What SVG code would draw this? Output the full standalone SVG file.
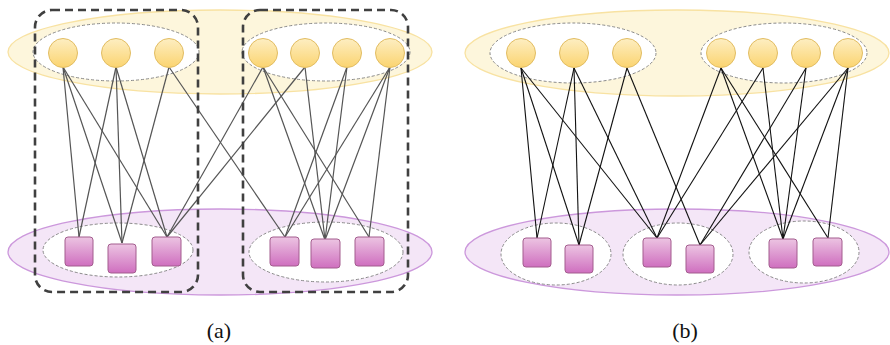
<svg xmlns="http://www.w3.org/2000/svg" width="890" height="345" viewBox="0 0 890 345">
<defs>
<linearGradient id="gc" x1="0" y1="0" x2="0" y2="1"><stop offset="0" stop-color="#fdeec2"/><stop offset="1" stop-color="#fbd470"/></linearGradient>
<linearGradient id="gs" x1="0" y1="0" x2="0" y2="1"><stop offset="0" stop-color="#ecc4e2"/><stop offset="1" stop-color="#cf6fbf"/></linearGradient>
</defs>
<style>
.yel{fill:#fdf6dc;stroke:#f8e2a2;stroke-width:1.3}
.pur{fill:#f4e6f7;stroke:#cc98dc;stroke-width:1.3}
.grp{fill:#fff;stroke:#8a8a8a;stroke-width:1;stroke-dasharray:3 2}
.box{fill:none;stroke:#404040;stroke-width:2.6;stroke-dasharray:8 5}
.c{fill:url(#gc);stroke:#e2bd62;stroke-width:1}
.s{fill:url(#gs);stroke:#a35d8e;stroke-width:1}
.ea{stroke:#555;stroke-width:1.2;fill:none}
.eb{stroke:#111;stroke-width:1.1;fill:none}
.lbl{font-family:"Liberation Serif","DejaVu Serif",serif;font-size:22px;fill:#111;text-anchor:middle}
</style>

<!-- Panel (a) backgrounds -->
<g id="a-top-layer"><ellipse class="yel" cx="220" cy="52" rx="212" ry="42"/></g>
<g id="a-bottom-layer"><ellipse class="pur" cx="220" cy="252" rx="212" ry="43"/></g>
<g id="a-top-g1"><ellipse class="grp" cx="116" cy="52" rx="83" ry="29"/></g>
<g id="a-top-g2"><ellipse class="grp" cx="326" cy="52" rx="84" ry="29"/></g>
<g id="a-bot-g1"><ellipse class="grp" cx="118" cy="250" rx="75" ry="27"/></g>
<g id="a-bot-g2"><ellipse class="grp" cx="326" cy="252" rx="77" ry="30"/></g>

<!-- Panel (b) backgrounds -->
<g id="b-top-layer"><ellipse class="yel" cx="677" cy="53" rx="212" ry="43"/></g>
<g id="b-bottom-layer"><ellipse class="pur" cx="677" cy="252" rx="212" ry="43"/></g>
<g id="b-top-g1"><ellipse class="grp" cx="573" cy="53" rx="83" ry="30"/></g>
<g id="b-top-g2"><ellipse class="grp" cx="784" cy="53" rx="83" ry="30"/></g>
<g id="b-bot-g1"><ellipse class="grp" cx="556" cy="254" rx="55" ry="31"/></g>
<g id="b-bot-g2"><ellipse class="grp" cx="678" cy="254" rx="55" ry="31"/></g>
<g id="b-bot-g3"><ellipse class="grp" cx="804" cy="252" rx="55" ry="31"/></g>

<!-- Connectors -->
<g id="connectors-a" class="ea">
<line x1="63" y1="67" x2="79" y2="237"/>
<line x1="63" y1="67" x2="122" y2="243"/>
<line x1="63" y1="67" x2="167" y2="237"/>
<line x1="116" y1="67" x2="79" y2="237"/>
<line x1="116" y1="67" x2="122" y2="243"/>
<line x1="116" y1="67" x2="167" y2="237"/>
<line x1="169" y1="67" x2="122" y2="243"/>
<line x1="169" y1="67" x2="285" y2="237"/>
<line x1="263" y1="67" x2="167" y2="237"/>
<line x1="263" y1="67" x2="325" y2="240"/>
<line x1="263" y1="67" x2="369" y2="237"/>
<line x1="305" y1="67" x2="167" y2="237"/>
<line x1="305" y1="67" x2="325" y2="240"/>
<line x1="347" y1="67" x2="285" y2="237"/>
<line x1="347" y1="67" x2="325" y2="240"/>
<line x1="390" y1="67" x2="285" y2="237"/>
<line x1="390" y1="67" x2="325" y2="240"/>
<line x1="390" y1="67" x2="369" y2="237"/>
</g>
<g id="connectors-b" class="eb">
<line x1="521" y1="68" x2="537" y2="238"/>
<line x1="521" y1="68" x2="579" y2="245"/>
<line x1="521" y1="68" x2="657" y2="238"/>
<line x1="574" y1="68" x2="537" y2="238"/>
<line x1="574" y1="68" x2="579" y2="245"/>
<line x1="574" y1="68" x2="657" y2="238"/>
<line x1="627" y1="68" x2="579" y2="245"/>
<line x1="627" y1="68" x2="700" y2="245"/>
<line x1="721" y1="68" x2="657" y2="238"/>
<line x1="721" y1="68" x2="783" y2="239"/>
<line x1="721" y1="68" x2="828" y2="238"/>
<line x1="763" y1="68" x2="657" y2="238"/>
<line x1="763" y1="68" x2="783" y2="239"/>
<line x1="806" y1="68" x2="700" y2="245"/>
<line x1="806" y1="68" x2="783" y2="239"/>
<line x1="848" y1="68" x2="700" y2="245"/>
<line x1="848" y1="68" x2="783" y2="239"/>
<line x1="848" y1="68" x2="828" y2="238"/>
</g>

<!-- Dashed partitions (a) -->
<g id="a-part1"><rect class="box" x="35" y="10" width="163" height="282" rx="17"/></g>
<g id="a-part2"><rect class="box" x="243" y="10" width="165" height="282" rx="17"/></g>

<!-- Nodes (a) -->
<g id="a-t1"><circle class="c" cx="63" cy="53" r="14.5"/></g>
<g id="a-t2"><circle class="c" cx="116" cy="53" r="14.5"/></g>
<g id="a-t3"><circle class="c" cx="169" cy="53" r="14.5"/></g>
<g id="a-t4"><circle class="c" cx="263" cy="53" r="14.5"/></g>
<g id="a-t5"><circle class="c" cx="305" cy="53" r="14.5"/></g>
<g id="a-t6"><circle class="c" cx="347" cy="53" r="14.5"/></g>
<g id="a-t7"><circle class="c" cx="390" cy="53" r="14.5"/></g>
<g id="a-b1"><rect class="s" x="65" y="237" width="28" height="29" rx="3"/></g>
<g id="a-b2"><rect class="s" x="108" y="244" width="28" height="29" rx="3"/></g>
<g id="a-b3"><rect class="s" x="152" y="237" width="29" height="29" rx="3"/></g>
<g id="a-b4"><rect class="s" x="270" y="237" width="29" height="29" rx="3"/></g>
<g id="a-b5"><rect class="s" x="311" y="239" width="29" height="29" rx="3"/></g>
<g id="a-b6"><rect class="s" x="355" y="237" width="29" height="29" rx="3"/></g>

<!-- Nodes (b) -->
<g id="b-t1"><circle class="c" cx="521" cy="53" r="14.5"/></g>
<g id="b-t2"><circle class="c" cx="574" cy="53" r="14.5"/></g>
<g id="b-t3"><circle class="c" cx="627" cy="53" r="14.5"/></g>
<g id="b-t4"><circle class="c" cx="721" cy="53" r="14.5"/></g>
<g id="b-t5"><circle class="c" cx="763" cy="53" r="14.5"/></g>
<g id="b-t6"><circle class="c" cx="806" cy="53" r="14.5"/></g>
<g id="b-t7"><circle class="c" cx="848" cy="53" r="14.5"/></g>
<g id="b-b1"><rect class="s" x="523" y="238" width="28" height="29" rx="3"/></g>
<g id="b-b2"><rect class="s" x="565" y="245" width="28" height="28" rx="3"/></g>
<g id="b-b3"><rect class="s" x="643" y="238" width="28" height="29" rx="3"/></g>
<g id="b-b4"><rect class="s" x="686" y="245" width="28" height="28" rx="3"/></g>
<g id="b-b5"><rect class="s" x="769" y="239" width="28" height="29" rx="3"/></g>
<g id="b-b6"><rect class="s" x="813" y="238" width="29" height="28" rx="3"/></g>

<g id="labels">
<text class="lbl" x="219" y="338">(a)</text>
<text class="lbl" x="685" y="338">(b)</text>
</g>
</svg>
